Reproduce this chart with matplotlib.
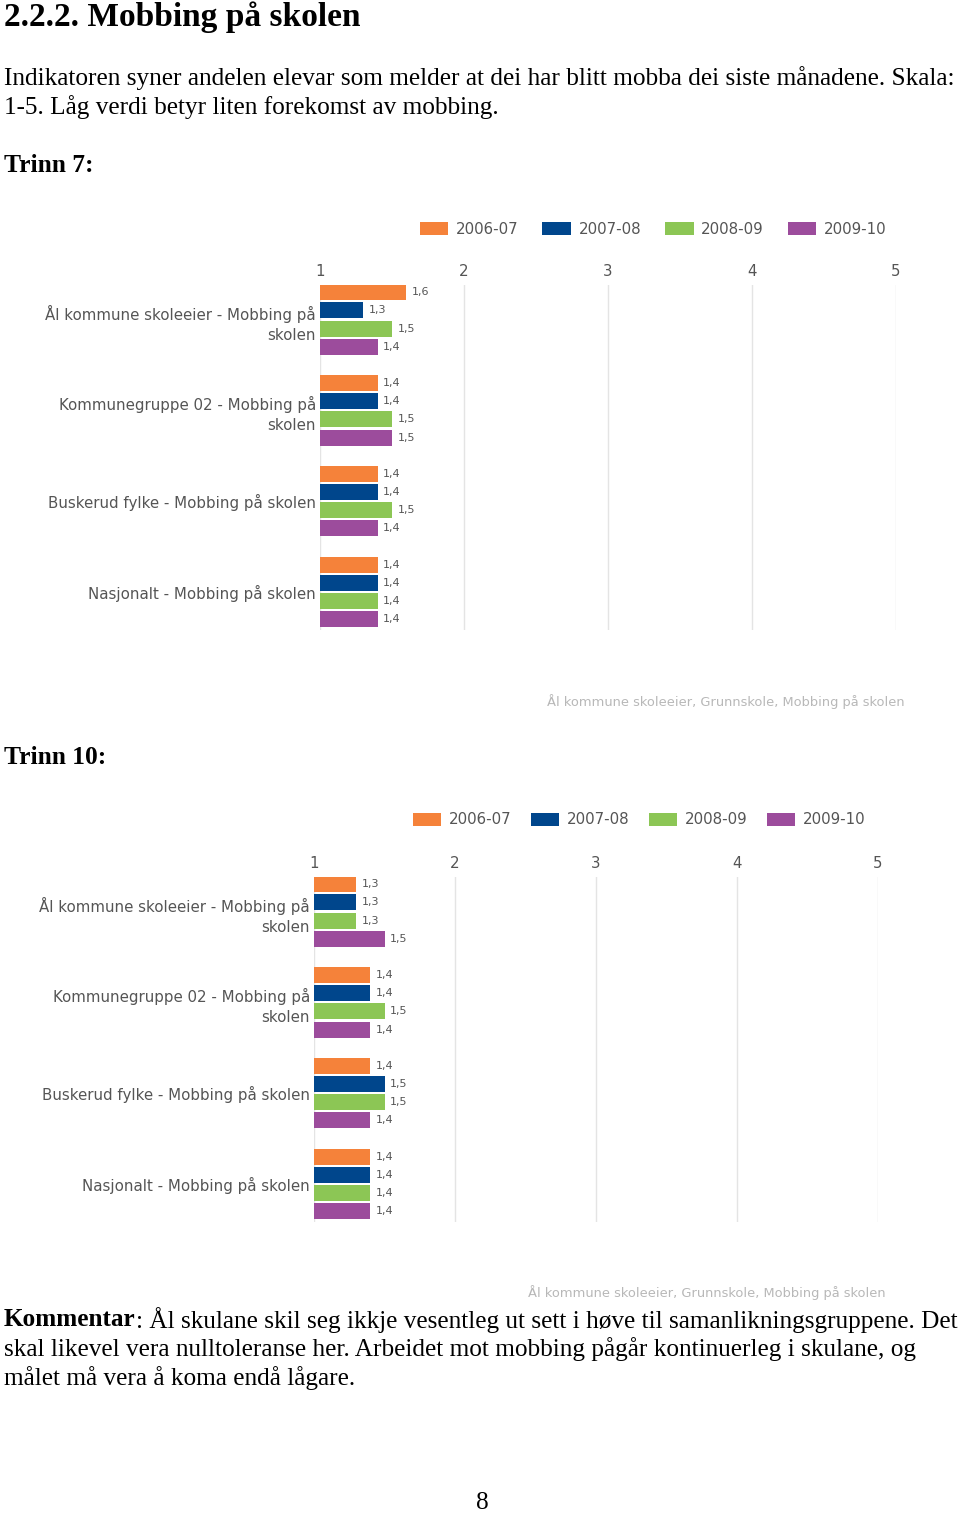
import matplotlib
matplotlib.use("Agg")
import matplotlib.pyplot as plt

W, H = 960, 1515

# data
categories = [
    "Ål kommune skoleeier - Mobbing på\nskolen",
    "Kommunegruppe 02 - Mobbing på\nskolen",
    "Buskerud fylke - Mobbing på skolen",
    "Nasjonalt - Mobbing på skolen",
]
years = ["2006-07", "2007-08", "2008-09", "2009-10"]
colors = ["#f5823a", "#00468c", "#8cc655", "#9c4c9c"]
trinn7 = [
    [1.6, 1.4, 1.4, 1.4],  # 2006-07
    [1.3, 1.4, 1.4, 1.4],  # 2007-08
    [1.5, 1.5, 1.5, 1.4],  # 2008-09
    [1.4, 1.5, 1.4, 1.4],  # 2009-10
]
trinn10 = [
    [1.3, 1.4, 1.4, 1.4],
    [1.3, 1.4, 1.5, 1.4],
    [1.3, 1.5, 1.5, 1.4],
    [1.5, 1.4, 1.4, 1.4],
]
x_ticks = [1, 2, 3, 4, 5]
source = "Ål kommune skoleeier, Grunnskole, Mobbing på skolen"

SERIF = "Liberation Serif"
SANS = "DejaVu Sans"
GREY = "#555555"
BODY = 18.2


def fy(y):
    return 1 - y / H


def px_axes(fig, x0, x1, y0, y1):
    return fig.add_axes([x0 / W, 1 - y1 / H, (x1 - x0) / W, (y1 - y0) / H])


def bar_chart(fig, values, box, legend_xy, source_xy, colspace=1.6):
    x0, x1, y0, y1 = box
    ax = px_axes(fig, x0, x1, y0, y1)
    step, height = 0.2, 0.176
    handles = []
    for s, (label, color) in enumerate(zip(years, colors)):
        ys = [g - 0.3 + s * step for g in range(len(categories))]
        bars = ax.barh(ys, [v - 1 for v in values[s]], left=1, height=height,
                       color=color, label=label)
        handles.append(bars)
        for y, v in zip(ys, values[s]):
            ax.annotate(f"{v:.1f}".replace(".", ","), (v, y), xytext=(4, 0),
                        textcoords="offset points", va="center", ha="left",
                        fontsize=8, color=GREY, family=SANS)
    for t in x_ticks:
        ax.axvline(t, color="#e4e4e4", lw=1, zorder=0)
    ax.set_xlim(1, 5)
    ax.set_ylim(3.42, -0.38)
    ax.xaxis.tick_top()
    ax.set_xticks(x_ticks)
    ax.set_xticklabels([str(t) for t in x_ticks])
    ax.set_yticks(range(len(categories)))
    ax.set_yticklabels(categories, multialignment="right", linespacing=1.45)
    for lab in ax.get_yticklabels():
        if "\n" in lab.get_text():
            lab.set_va("center_baseline")
    ax.tick_params(length=0, labelsize=10.8, labelcolor=GREY)
    ax.tick_params(axis="x", pad=4)
    ax.tick_params(axis="y", pad=3)
    for sp in ax.spines.values():
        sp.set_visible(False)
    fig.legend(handles=handles, labels=years, ncol=4, frameon=False,
               loc="center", bbox_to_anchor=(legend_xy[0] / W, fy(legend_xy[1])),
               handlelength=1.9, handleheight=1.0, handletextpad=0.5,
               columnspacing=colspace, prop={"family": SANS, "size": 10.8},
               labelcolor=GREY)
    fig.text(source_xy[0] / W, fy(source_xy[1]), source, ha="right", va="center",
             fontsize=9.4, color="#b8b8b8", family=SANS)
    return ax


fig = plt.figure(figsize=(W / 100, H / 100), dpi=100)

fig.text(4 / W, fy(17), "2.2.2. Mobbing på skolen", fontsize=24, fontweight="bold",
         family=SERIF, va="center")
fig.text(4 / W, fy(78), "Indikatoren syner andelen elevar som melder at dei har blitt "
         "mobba dei siste månadene. Skala:", fontsize=BODY, family=SERIF, va="center")
fig.text(4 / W, fy(107), "1-5. Låg verdi betyr liten forekomst av mobbing.",
         fontsize=BODY, family=SERIF, va="center")
fig.text(4 / W, fy(165), "Trinn 7:", fontsize=18.4, fontweight="bold", family=SERIF,
         va="center")
fig.text(4 / W, fy(757), "Trinn 10:", fontsize=18.4, fontweight="bold", family=SERIF,
         va="center")

bar_chart(fig, trinn7, (320, 896, 285, 630), (653, 229), (905, 702))
bar_chart(fig, trinn10, (314, 878, 877, 1222), (639, 820), (886, 1293), colspace=1.3)

# comment block
renderer = fig.canvas.get_renderer()
k = fig.text(4 / W, fy(1320), "Kommentar", fontsize=BODY, fontweight="bold",
             family=SERIF, va="center")
kx = k.get_window_extent(renderer).x1
fig.text(kx / W, fy(1320), ": Ål skulane skil seg ikkje vesentleg ut sett i høve til "
         "samanlikningsgruppene. Det", fontsize=BODY, family=SERIF, va="center")
fig.text(4 / W, fy(1349), "skal likevel vera nulltoleranse her. Arbeidet mot mobbing "
         "pågår kontinuerleg i skulane, og", fontsize=BODY, family=SERIF, va="center")
fig.text(4 / W, fy(1378), "målet må vera å koma endå lågare.", fontsize=BODY,
         family=SERIF, va="center")
fig.text(482 / W, fy(1503), "8", fontsize=BODY, family=SERIF, va="center",
         ha="center")

fig.savefig("out.png", dpi=100)
